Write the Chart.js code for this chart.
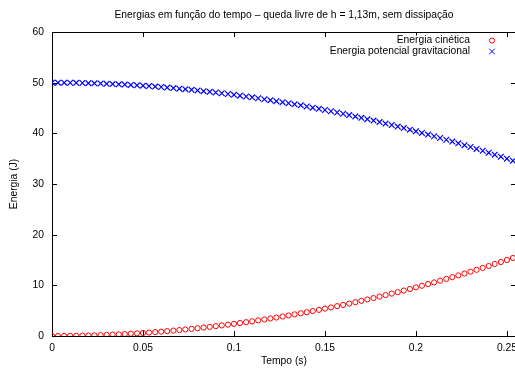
<!DOCTYPE html>
<html lang="pt-br">
<head>
<meta charset="UTF-8">
<title>Energias em função do tempo</title>
<script src="https://cdn.jsdelivr.net/npm/chart.js"></script>
<style>
    html, body { margin: 0; padding: 0; background: #fff; overflow: hidden; }
    #grafico { display: block; }
</style>
</head>
<body>
<canvas id="grafico" width="568" height="369"></canvas>

<script>
// Tempo (s) - um ponto a cada quadro
const tempo = [0, 0.0033, 0.0067, 0.01, 0.0133, 0.0167, 0.02, 0.0233, 0.0267, 0.03,
    0.0333, 0.0367, 0.04, 0.0433, 0.0467, 0.05, 0.0533, 0.0567, 0.06, 0.0633,
    0.0667, 0.07, 0.0733, 0.0767, 0.08, 0.0833, 0.0867, 0.09, 0.0933, 0.0967,
    0.1, 0.1033, 0.1067, 0.11, 0.1133, 0.1167, 0.12, 0.1233, 0.1267, 0.13,
    0.1333, 0.1367, 0.14, 0.1433, 0.1467, 0.15, 0.1533, 0.1567, 0.16, 0.1633,
    0.1667, 0.17, 0.1733, 0.1767, 0.18, 0.1833, 0.1867, 0.19, 0.1933, 0.1967,
    0.2, 0.2033, 0.2067, 0.21, 0.2133, 0.2167, 0.22, 0.2233, 0.2267, 0.23,
    0.2333, 0.2367, 0.24, 0.2433, 0.2467, 0.25, 0.2533];

// Energia cinética (J)
const energiaCinetica = [0, 0.00, 0.01, 0.02, 0.04, 0.07, 0.10, 0.13, 0.17, 0.22,
    0.27, 0.32, 0.38, 0.45, 0.52, 0.60, 0.68, 0.77, 0.86, 0.96,
    1.07, 1.18, 1.29, 1.41, 1.54, 1.67, 1.80, 1.94, 2.09, 2.24,
    2.40, 2.56, 2.73, 2.90, 3.08, 3.27, 3.46, 3.65, 3.85, 4.06,
    4.27, 4.48, 4.70, 4.93, 5.16, 5.40, 5.64, 5.89, 6.14, 6.40,
    6.67, 6.94, 7.21, 7.49, 7.78, 8.07, 8.36, 8.66, 8.97, 9.28,
    9.60, 9.92, 10.25, 10.58, 10.92, 11.27, 11.62, 11.97, 12.33, 12.70,
    13.07, 13.44, 13.82, 14.21, 14.60, 15.00, 15.40];

// Energia potencial gravitacional (J)
const energiaPotencial = [50.00, 50.00, 49.99, 49.98, 49.96, 49.93, 49.90, 49.87, 49.83, 49.78,
    49.73, 49.68, 49.62, 49.55, 49.48, 49.40, 49.32, 49.23, 49.14, 49.04,
    48.93, 48.82, 48.71, 48.59, 48.46, 48.33, 48.20, 48.06, 47.91, 47.76,
    47.60, 47.44, 47.27, 47.10, 46.92, 46.73, 46.54, 46.35, 46.15, 45.94,
    45.73, 45.52, 45.30, 45.07, 44.84, 44.60, 44.36, 44.11, 43.86, 43.60,
    43.33, 43.06, 42.79, 42.51, 42.22, 41.93, 41.64, 41.34, 41.03, 40.72,
    40.40, 40.08, 39.75, 39.42, 39.08, 38.73, 38.38, 38.03, 37.67, 37.30,
    36.93, 36.56, 36.18, 35.79, 35.40, 35.00, 34.60];

const ticksX = [0, 0.05, 0.1, 0.15, 0.2, 0.25];
const ticksY = [0, 10, 20, 30, 40, 50, 60];

const titulo = 'Energias em função do tempo – queda livre de h = 1,13m, sem dissipação';
const fonte = 'Liberation Sans, Arial, Helvetica, sans-serif';
const tamFonte = 10.3;

// moldura com ticks para dentro (estilo gnuplot) e título centrado no gráfico
const moldura = {
    id: 'moldura',
    beforeDatasetsDraw(chart) {
        const ctx = chart.ctx;
        const a = chart.chartArea;
        const sx = chart.scales.x;
        const sy = chart.scales.y;
        const t = 5;
        ctx.save();
        ctx.strokeStyle = '#000';
        ctx.lineWidth = 1;
        ctx.beginPath();
        ctx.rect(Math.round(a.left) + 0.5, Math.round(a.top) + 0.5,
            Math.round(a.right - a.left), Math.round(a.bottom - a.top));
        ticksX.forEach(v => {
            const px = Math.round(sx.getPixelForValue(v)) + 0.5;
            ctx.moveTo(px, a.bottom); ctx.lineTo(px, a.bottom - t);
            ctx.moveTo(px, a.top); ctx.lineTo(px, a.top + t);
        });
        ticksY.forEach(v => {
            const py = Math.round(sy.getPixelForValue(v)) + 0.5;
            ctx.moveTo(a.left, py); ctx.lineTo(a.left + t, py);
            ctx.moveTo(a.right, py); ctx.lineTo(a.right - t, py);
        });
        ctx.stroke();

        ctx.fillStyle = '#000';
        ctx.font = tamFonte + 'px ' + fonte;
        ctx.textAlign = 'center';
        ctx.textBaseline = 'middle';
        ctx.fillText(titulo, (a.left + a.right) / 2, 15);
        ctx.restore();
    }
};

// legenda dentro do gráfico, texto à esquerda do símbolo (fundo opaco)
const legenda = {
    id: 'legenda',
    afterDraw(chart) {
        const ctx = chart.ctx;
        const a = chart.chartArea;
        ctx.save();
        ctx.font = tamFonte + 'px ' + fonte;
        ctx.textAlign = 'right';
        ctx.textBaseline = 'middle';
        chart.data.datasets.forEach((ds, i) => {
            const y = a.top + 8.5 + i * 11;
            const w = ctx.measureText(ds.label).width;
            ctx.fillStyle = '#fff';
            ctx.fillRect(a.right - 46 - w - 1, y - 5, w + 2, 10);
            ctx.fillStyle = '#000';
            ctx.fillText(ds.label, a.right - 46, y);
            ctx.strokeStyle = ds.borderColor;
            ctx.fillStyle = 'rgba(0,0,0,0)';
            Chart.helpers.drawPoint(ctx, {
                pointStyle: ds.pointStyle,
                radius: ds.pointRadius,
                borderWidth: 1,
                rotation: 0
            }, a.right - 24, y);
        });
        ctx.restore();
    }
};

new Chart(document.getElementById('grafico'), {
    type: 'scatter',
    data: {
        datasets: [
            {
                label: 'Energia cinética',
                data: tempo.map((t, i) => ({ x: t, y: energiaCinetica[i] })),
                borderColor: '#ff0000',
                backgroundColor: 'rgba(0,0,0,0)',
                pointStyle: 'circle',
                pointRadius: 2.6,
                pointBorderWidth: 1
            },
            {
                label: 'Energia potencial gravitacional',
                data: tempo.map((t, i) => ({ x: t, y: energiaPotencial[i] })),
                borderColor: '#0000ff',
                backgroundColor: 'rgba(0,0,0,0)',
                pointStyle: 'crossRot',
                pointRadius: 4,
                pointBorderWidth: 1.2
            }
        ]
    },
    options: {
        responsive: false,
        animation: false,
        layout: { padding: { left: 0, right: 52, top: 32, bottom: 0 } },
        plugins: {
            legend: { display: false },
            tooltip: { enabled: false },
            title: { display: false }
        },
        scales: {
            x: {
                type: 'linear',
                min: 0,
                max: 0.255,
                grid: { display: false, drawTicks: false },
                border: { display: false },
                afterBuildTicks: s => { s.ticks = ticksX.map(v => ({ value: v })); },
                afterFit: s => { s.height = 33; },
                ticks: {
                    color: '#000',
                    padding: 6,
                    maxRotation: 0,
                    font: { family: fonte, size: tamFonte },
                    callback: v => String(v)
                },
                title: {
                    display: true,
                    text: 'Tempo (s)',
                    color: '#000',
                    font: { family: fonte, size: tamFonte },
                    padding: { top: 0, bottom: 2 }
                }
            },
            y: {
                min: 0,
                max: 60,
                grid: { display: false, drawTicks: false },
                border: { display: false },
                afterBuildTicks: s => { s.ticks = ticksY.map(v => ({ value: v })); },
                afterFit: s => { s.width = 52; },
                ticks: {
                    color: '#000',
                    padding: 8,
                    font: { family: fonte, size: tamFonte }
                },
                title: {
                    display: true,
                    text: 'Energia (J)',
                    color: '#000',
                    font: { family: fonte, size: tamFonte },
                    padding: { top: 7.8, bottom: 0 }
                }
            }
        }
    },
    plugins: [moldura, legenda]
});
</script>
</body>
</html>
